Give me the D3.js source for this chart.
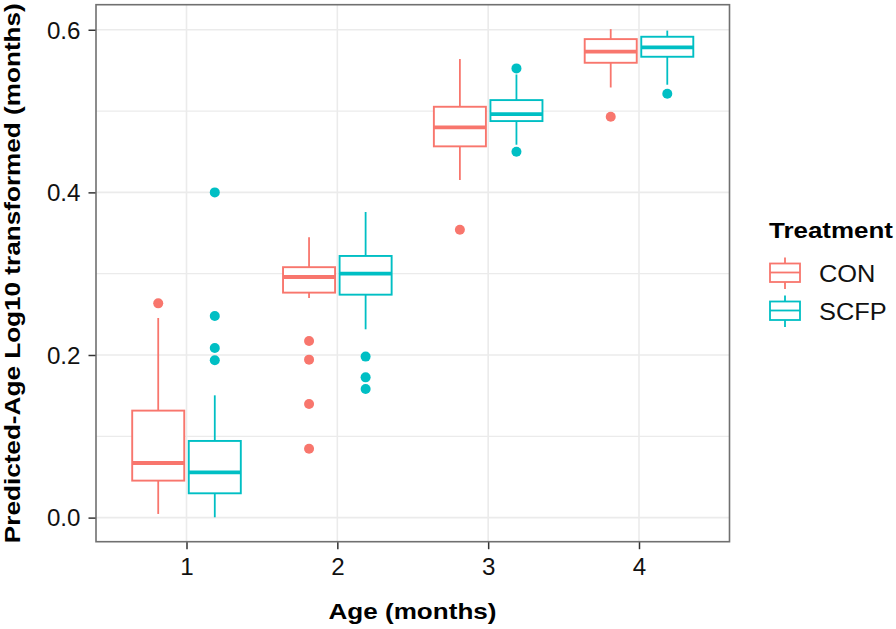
<!DOCTYPE html>
<html>
<head>
<meta charset="utf-8">
<script src="https://cdn.jsdelivr.net/npm/d3@7"></script>
<style>
  html, body { margin: 0; padding: 0; background: #fff; }
  svg { display: block; font-family: "Liberation Sans", Arial, sans-serif; }
</style>
</head>
<body>
<svg id="chart" width="896" height="629"></svg>
<script>
// ---------- data ----------
const ages = ["1", "2", "3", "4"];
const treatments = ["CON", "SCFP"];
const colors = ["#F8766D", "#00BFC4"];
const yTicks = [0.0, 0.2, 0.4, 0.6];
const yMinorTicks = [0.1, 0.3, 0.5];

const conLower   = [0.0045, 0.2701, 0.4152, 0.5290];
const conQ1      = [0.0455, 0.2767, 0.4566, 0.5594];
const conMedian  = [0.0672, 0.2959, 0.4799, 0.5730];
const conQ3      = [0.1316, 0.3080, 0.5053, 0.5885];
const conUpper   = [0.2455, 0.3447, 0.5640, 0.6008];
const conOutliers = [[0.2635], [0.2172, 0.1943, 0.1398, 0.0848], [0.3541], [0.4930]];

const scfpLower   = [0.0004, 0.2316, 0.4586, 0.5324];
const scfpQ1      = [0.0299, 0.2742, 0.4877, 0.5668];
const scfpMedian  = [0.0557, 0.3000, 0.4963, 0.5783];
const scfpQ3      = [0.0943, 0.3218, 0.5135, 0.5914];
const scfpUpper   = [0.1504, 0.3759, 0.5450, 0.5990];
const scfpOutliers = [[0.4000, 0.2480, 0.2086, 0.1935], [0.1980, 0.1725, 0.1582], [0.5525, 0.4500], [0.5213]];

// ---------- build table ----------
const stats = [
  {lower: conLower, q1: conQ1, med: conMedian, q3: conQ3, upper: conUpper, out: conOutliers},
  {lower: scfpLower, q1: scfpQ1, med: scfpMedian, q3: scfpQ3, upper: scfpUpper, out: scfpOutliers}
];
const boxes = [];
treatments.forEach((t, ti) => {
  ages.forEach((a, ai) => {
    const s = stats[ti];
    boxes.push({age: a, trt: t, ti: ti,
      lower: s.lower[ai], q1: s.q1[ai], med: s.med[ai], q3: s.q3[ai], upper: s.upper[ai],
      out: s.out[ai]});
  });
});

// ---------- layout ----------
const panel = {left: 96, top: 4.7, right: 729.5, bottom: 541.7};
const svg = d3.select("#chart");

const allVals = boxes.flatMap(b => [b.lower, b.upper, ...b.out]);
const vmin = d3.min(allVals), vmax = d3.max(allVals);
const pad = (vmax - vmin) * 0.05;

const y = d3.scaleLinear().domain([vmin - pad, vmax + pad]).range([panel.bottom, panel.top]);
const x = d3.scalePoint().domain(ages).range([panel.left, panel.right]).padding(0.6);
const step = x.step();
const dodge = d3.scaleBand().domain(treatments).range([-0.375 * step, 0.375 * step]);
const boxW = 0.345 * step;

// background
svg.append("rect").attr("x", 0).attr("y", 0).attr("width", 896).attr("height", 629).attr("fill", "#fff");

// grid
const grid = svg.append("g");
grid.selectAll("line.minor").data(yMinorTicks).join("line")
  .attr("x1", panel.left).attr("x2", panel.right)
  .attr("y1", d => y(d)).attr("y2", d => y(d))
  .attr("stroke", "#ebebeb").attr("stroke-width", 1.2);
grid.selectAll("line.major").data(yTicks).join("line")
  .attr("x1", panel.left).attr("x2", panel.right)
  .attr("y1", d => y(d)).attr("y2", d => y(d))
  .attr("stroke", "#ebebeb").attr("stroke-width", 1.6);
grid.selectAll("line.vmajor").data(ages).join("line")
  .attr("x1", d => x(d)).attr("x2", d => x(d))
  .attr("y1", panel.top).attr("y2", panel.bottom)
  .attr("stroke", "#ebebeb").attr("stroke-width", 1.6);

// boxes
const bg = svg.append("g").selectAll("g").data(boxes).join("g")
  .attr("transform", d => `translate(${x(d.age) + dodge(d.trt) + dodge.bandwidth() / 2},0)`);
bg.append("line").attr("x1", 0).attr("x2", 0)
  .attr("y1", d => y(d.q3)).attr("y2", d => y(d.upper))
  .attr("stroke", d => colors[d.ti]).attr("stroke-width", 1.8);
bg.append("line").attr("x1", 0).attr("x2", 0)
  .attr("y1", d => y(d.q1)).attr("y2", d => y(d.lower))
  .attr("stroke", d => colors[d.ti]).attr("stroke-width", 1.8);
bg.append("rect")
  .attr("x", -boxW / 2).attr("width", boxW)
  .attr("y", d => y(d.q3)).attr("height", d => y(d.q1) - y(d.q3))
  .attr("fill", "#fff").attr("stroke", d => colors[d.ti]).attr("stroke-width", 1.9);
bg.append("line").attr("x1", -boxW / 2).attr("x2", boxW / 2)
  .attr("y1", d => y(d.med)).attr("y2", d => y(d.med))
  .attr("stroke", d => colors[d.ti]).attr("stroke-width", 3.8);
bg.selectAll("circle").data(d => d.out.map(v => ({v, ti: d.ti}))).join("circle")
  .attr("cx", 0).attr("cy", d => y(d.v)).attr("r", 5)
  .attr("fill", d => colors[d.ti]);

// panel border
svg.append("rect")
  .attr("x", panel.left).attr("y", panel.top)
  .attr("width", panel.right - panel.left).attr("height", panel.bottom - panel.top)
  .attr("fill", "none").attr("stroke", "#707070").attr("stroke-width", 1.6);

// axes
const yAxis = svg.append("g").attr("transform", `translate(${panel.left - 0.5},0)`)
  .call(d3.axisLeft(y).tickValues(yTicks).tickFormat(d3.format(".1f")).tickSize(7).tickPadding(8));
const xAxis = svg.append("g").attr("transform", `translate(0,${panel.bottom + 0.5})`)
  .call(d3.axisBottom(x).tickSize(7).tickPadding(9));
[yAxis, xAxis].forEach(ax => {
  ax.select(".domain").remove();
  ax.selectAll(".tick line").attr("stroke", "#333").attr("stroke-width", 1.5);
  ax.selectAll(".tick text").attr("fill", "#111").attr("font-size", 23)
    .attr("font-family", "'Liberation Sans', Arial, sans-serif").classed("stretch105", true);
});
yAxis.selectAll(".tick text").attr("dy", "0.36em");
xAxis.selectAll(".tick text").attr("dy", "0.72em");

// axis titles
svg.append("text").attr("x", 412.5).attr("y", 619)
  .attr("text-anchor", "middle").attr("font-size", 22.5).attr("font-weight", "bold")
  .attr("fill", "#000").attr("data-len", 168).text("Age (months)");
svg.append("text").attr("transform", `translate(20,${(panel.top + panel.bottom) / 2}) rotate(-90)`)
  .attr("text-anchor", "middle").attr("font-size", 22.5).attr("font-weight", "bold")
  .attr("fill", "#000").attr("data-len", 540).text("Predicted-Age Log10 transformed (months)");

// legend
const lg = svg.append("g");
lg.append("text").attr("x", 769).attr("y", 238).attr("font-size", 22.5).attr("font-weight", "bold")
  .attr("fill", "#000").attr("data-len", 124).text("Treatment");
const keyCenters = [273, 311];
const items = lg.selectAll("g.item").data(treatments).join("g")
  .attr("transform", (d, i) => `translate(769,${keyCenters[i]})`);
items.append("line").attr("x1", 16).attr("x2", 16).attr("y1", -15.5).attr("y2", 16)
  .attr("stroke", (d, i) => colors[i]).attr("stroke-width", 1.8);
items.append("rect").attr("x", 1).attr("y", -9.5).attr("width", 30).attr("height", 18.5)
  .attr("fill", "#fff").attr("stroke", (d, i) => colors[i]).attr("stroke-width", 1.8);
items.append("line").attr("x1", 1).attr("x2", 31).attr("y1", -0.5).attr("y2", -0.5)
  .attr("stroke", (d, i) => colors[i]).attr("stroke-width", 1.8);
items.append("text").attr("x", 50).attr("y", 9).attr("font-size", 23.5)
  .attr("fill", "#111").classed("stretch108", true).text(d => d);

// stretch text to match reference widths
svg.selectAll("text").each(function () {
  const el = d3.select(this);
  const len = this.getComputedTextLength();
  let target = null;
  if (el.attr("data-len")) target = +el.attr("data-len");
  else if (el.classed("stretch105")) target = len * 1.05;
  else if (el.classed("stretch108")) target = len * 1.08;
  if (target) el.attr("textLength", target).attr("lengthAdjust", "spacingAndGlyphs");
});
</script>
</body>
</html>
